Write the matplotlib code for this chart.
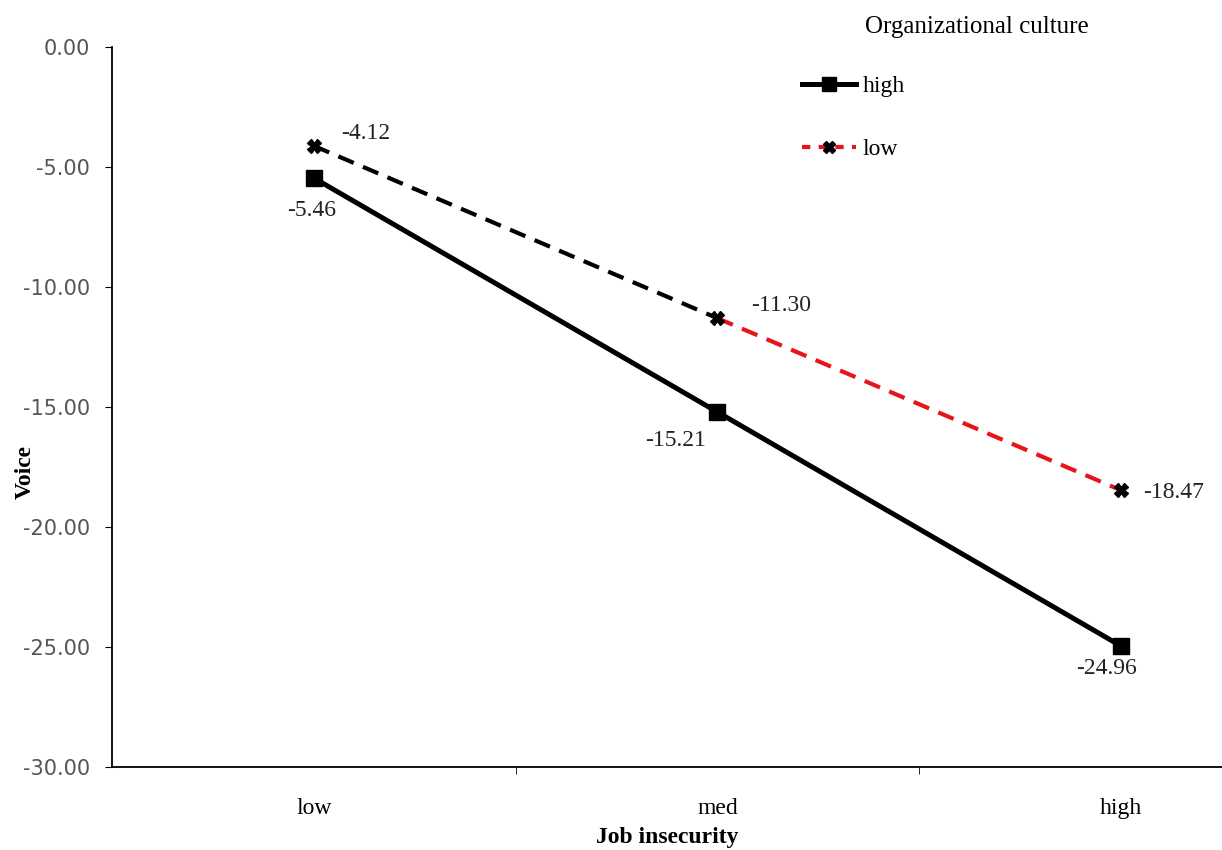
import matplotlib
matplotlib.use("Agg")
import matplotlib.pyplot as plt
from matplotlib.lines import Line2D

levels = ["low", "med", "high"]
high_culture = [-5.46, -15.21, -24.96]
low_culture = [-4.12, -11.30, -18.47]
yticks = [0, -5, -10, -15, -20, -25, -30]

serif = "Liberation Serif"
DASH = (0, (4, 2.4))

fig = plt.figure(figsize=(12.22, 8.5), dpi=100)
ax = fig.add_axes([0.0917, 0.0976, 0.9083, 0.8471])

x = range(len(levels))
ax.plot(x, high_culture, color="black", lw=3.6, marker="s", ms=11, zorder=3)
# low culture: first segment black, second red
ax.plot([0, 1], low_culture[:2], color="black", lw=3.0, ls=DASH, zorder=2)
ax.plot([1, 2], low_culture[1:], color="#e8141c", lw=3.0, ls=DASH, zorder=2)
ax.plot(x, low_culture, ls="none", marker="X", ms=10, color="black", zorder=4)

# value labels (offsets in pixels from the point, y up)
px = 0.72
offsets_high = [(-2, -32), (-42, -28), (-15, -22)]
offsets_low = [(52, 12), (64, 13), (52, -2)]
for i, v in enumerate(high_culture):
    dx, dy = offsets_high[i]
    ax.annotate(f"{v:.2f}", (i, v), xytext=(dx * px, dy * px), textcoords="offset points",
                ha="center", va="center", fontsize=17, family=serif, color="#222222")
for i, v in enumerate(low_culture):
    dx, dy = offsets_low[i]
    ax.annotate(f"{v:.2f}", (i, v), xytext=(dx * px, dy * px), textcoords="offset points",
                ha="center", va="center", fontsize=17, family=serif, color="#222222")

ax.set_xlim(-0.5, 2.25)
ax.set_ylim(-30, 0)
ax.set_yticks(yticks)
ax.set_yticklabels([f"{t:.2f}" for t in yticks], fontsize=15, color="#555555", family="DejaVu Sans")
ax.set_xticks(list(x))
ax.set_xticklabels(levels, fontsize=17, family=serif)
ax.tick_params(axis="x", length=0, pad=22)
ax.tick_params(axis="y", length=5, direction="out", pad=11)
ax.set_xticks([0.5, 1.5], minor=True)
ax.tick_params(axis="x", which="minor", length=5, direction="out")
for side in ["top", "right"]:
    ax.spines[side].set_visible(False)
for side in ["left", "bottom"]:
    ax.spines[side].set_linewidth(1.3)

ax.set_xlabel("Job insecurity", fontsize=17, family=serif, fontweight="bold", labelpad=6)
ax.set_ylabel("Voice", fontsize=17, family=serif, fontweight="bold")
ax.yaxis.set_label_coords(-0.069, 0.41)

fig.text(0.708, 0.968, "Organizational culture", fontsize=18, family=serif, va="center")
handles = [
    Line2D([], [], color="black", lw=3.6, marker="s", ms=10),
    Line2D([], [], color="#e8141c", lw=3.0, ls=(0, (2, 2)), marker="X", ms=9,
           markerfacecolor="black", markeredgecolor="black"),
]
fig.legend(handles, ["high", "low"], loc="upper left", bbox_to_anchor=(0.639, 0.936),
           frameon=False, prop={"family": serif, "size": 17}, handlelength=2.3,
           handletextpad=0.25, labelspacing=1.75)

fig.savefig("out.png", dpi=100)
